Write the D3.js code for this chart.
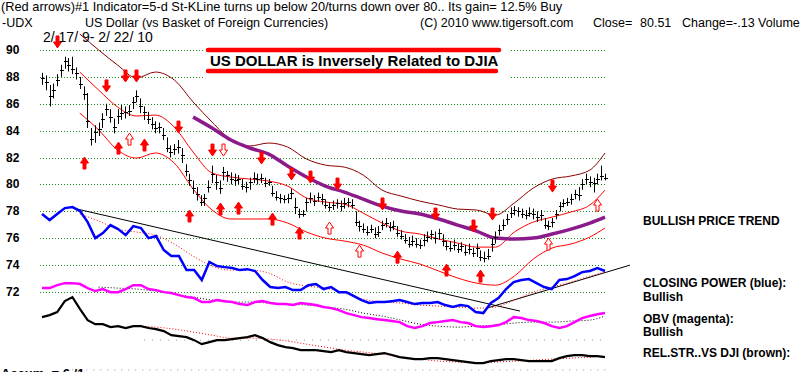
<!DOCTYPE html>
<html>
<head>
<meta charset="utf-8">
<script src="https://cdn.jsdelivr.net/npm/d3@7"></script>
<style>
  body { margin: 0; background: #fff; }
  svg { display: block; }
</style>
</head>
<body>
<div id="chart"></div>
<script>
// daily bars [high, low, close], 2/17/09 .. 2/22/10
var bars = [
  [88.3,87.4,87.9],[88.1,87.0,87.6],[87.4,85.8,86.6],[87.5,86.4,87.0],[88.2,87.3,87.8],[88.9,88.0,88.5],[89.5,88.6,89.2],[89.4,88.4,88.9],[89.5,88.2,88.6],[88.7,87.8,88.3],
  [88.0,87.1,87.5],[87.3,86.3,86.7],[86.8,84.2,84.7],[84.2,82.9,83.4],[84.4,83.1,83.9],[84.6,83.6,84.1],[85.3,84.2,84.9],[86.0,85.1,85.6],[85.6,84.6,85.0],[84.9,83.8,84.3],
  [85.6,84.5,85.1],[85.9,84.8,85.3],[85.8,84.9,85.4],[85.9,85.1,85.5],[86.5,85.6,86.1],[87.0,86.1,86.6],[86.4,85.3,85.8],[85.8,84.8,85.4],[85.4,84.5,84.9],[85.0,84.1,84.5],
  [84.7,83.8,84.2],[84.6,83.8,84.3],[84.2,83.3,83.7],[83.5,82.4,82.7],[82.9,82.0,82.4],[83.0,82.2,82.6],[83.3,82.3,82.8],[82.7,81.6,82.2],[81.5,80.6,81.0],[80.8,79.9,80.3],
  [80.3,79.3,79.7],[79.8,78.8,79.3],[79.2,78.4,78.7],[79.3,78.4,79.0],[80.3,79.4,79.8],[81.4,80.1,80.8],[80.7,79.6,80.2],[80.3,79.3,79.7],[81.3,80.3,80.9],[81.0,80.2,80.7],
  [80.9,80.0,80.4],[80.8,79.9,80.3],[80.7,80.0,80.4],[80.4,79.6,79.9],[80.2,79.4,79.8],[80.5,79.6,80.2],[80.9,80.1,80.5],[80.8,80.0,80.4],[80.8,80.1,80.5],[80.5,79.8,80.1],
  [80.4,79.9,80.2],[79.9,79.1,79.4],[79.5,78.8,79.1],[79.3,78.6,79.0],[79.2,78.6,78.9],[79.3,78.6,79.0],[79.7,78.9,79.4],[79.0,77.8,78.3],[78.2,77.5,77.8],[78.1,77.6,77.8],
  [79.0,78.0,78.7],[79.4,78.6,79.0],[79.2,78.4,78.8],[79.4,78.7,79.1],[79.3,78.5,78.9],[78.9,78.2,78.5],[78.7,78.0,78.3],[78.8,78.1,78.5],[78.9,78.2,78.6],[78.8,78.0,78.4],
  [79.0,78.2,78.6],[79.0,78.3,78.7],[78.9,78.2,78.5],[78.0,76.9,77.2],[77.3,76.5,76.9],[77.1,76.4,76.7],[76.9,76.2,76.5],[77.0,76.4,76.7],[76.8,76.0,76.3],[76.9,76.1,76.5],
  [77.3,76.6,77.0],[77.5,76.8,77.1],[77.2,76.5,76.8],[77.3,76.6,76.9],[76.9,76.1,76.4],[76.6,75.9,76.2],[76.3,75.6,75.9],[76.1,75.3,75.6],[76.2,75.4,75.8],[76.0,75.3,75.6],
  [75.9,75.2,75.5],[76.3,75.4,75.9],[76.5,75.7,76.1],[76.6,75.9,76.3],[76.5,75.6,76.0],[76.7,75.9,76.4],[76.3,75.4,75.8],[75.8,75.1,75.4],[75.8,75.0,75.3],[75.9,75.1,75.5],
  [75.6,74.9,75.2],[75.7,75.0,75.4],[75.5,74.7,75.0],[75.6,74.8,75.2],[75.3,74.6,74.9],[75.6,74.6,75.3],[75.1,74.3,74.6],[75.0,74.2,74.5],[75.2,74.4,74.7],[76.0,75.0,75.6],
  [76.5,75.6,76.1],[77.0,76.2,76.6],[77.4,76.6,77.0],[77.8,77.0,77.4],[78.3,77.5,77.9],[78.4,77.7,78.1],[78.3,77.6,78.0],[78.2,77.5,77.8],[78.1,77.4,77.7],[78.3,77.6,77.9],
  [78.2,77.4,77.8],[78.0,77.2,77.6],[78.1,77.3,77.7],[77.5,76.7,77.0],[77.3,76.6,76.9],[77.5,76.8,77.2],[78.1,77.4,77.8],[78.7,78.0,78.4],[78.9,78.3,78.6],[79.0,78.4,78.7],
  [79.3,78.5,78.9],[79.6,78.9,79.3],[79.8,78.8,79.2],[80.4,79.6,80.0],[80.8,80.0,80.4],[80.6,79.8,80.2],[80.5,79.4,80.1],[80.8,80.0,80.4],[81.4,80.3,80.6],[80.8,80.3,80.51]
];

var priceTicks = [90, 88, 86, 84, 82, 80, 78, 76, 74, 72];

// smooth lines, one value every 5 bars (last one = final bar)
var bandIdx = [0,5,10,15,20,25,30,35,40,45,50,55,60,65,70,75,80,85,90,95,100,105,110,115,120,125,130,135,140,145,149];
var upperBand = [null,null,91.19,90.0,88.88,87.92,88.36,87.77,86.13,84.64,83.30,82.86,83.08,82.78,81.89,81.44,81.29,80.70,79.58,79.14,78.76,78.47,78.17,78.10,77.72,78.62,79.73,80.40,80.63,81.07,82.34];
var innerBand = [null,null,88.36,87.02,85.76,85.09,85.16,84.27,82.41,80.85,80.55,80.40,80.25,79.88,78.99,78.69,78.54,77.87,77.13,76.53,76.31,75.94,75.64,75.34,75.34,76.46,77.20,77.57,77.95,78.47,79.58];
var lowerBand = [null,null,85.31,84.05,82.56,81.96,82.34,81.59,79.66,78.10,77.43,77.43,77.43,77.13,76.46,76.01,75.79,75.49,74.90,74.45,74.08,73.56,73.04,72.66,72.51,73.18,74.45,75.27,75.57,76.09,76.76];
var trendMA = [null,null,null,null,null,null,null,null,85.01,84.20,83.30,82.71,82.26,81.37,80.55,79.88,79.43,78.91,78.39,78.02,77.80,77.43,76.98,76.53,76.01,75.94,76.01,76.31,76.68,77.13,77.57];
var cpMA = [null,null,77.80,77.28,76.68,76.46,76.23,75.57,74.67,73.93,73.63,73.63,73.41,72.74,72.44,72.29,71.92,71.47,71.25,71.18,71.03,70.95,70.88,70.80,70.88,71.40,71.99,72.37,72.74,73.18,73.48];
var obvMA = [null,null,null,72.37,72.29,72.22,72.07,71.85,71.62,71.40,71.25,71.25,71.18,71.10,71.03,70.88,70.73,70.43,70.21,69.91,69.61,69.46,69.39,69.46,69.54,69.69,69.76,69.76,69.84,69.91,70.21];
var rsMA = [null,null,null,null,null,69.46,69.39,69.24,69.02,68.79,68.57,68.57,68.50,68.35,68.12,67.90,67.68,67.53,67.38,67.16,67.01,66.86,66.79,66.71,66.79,66.86,66.93,67.01,67.08,67.16,67.23];

// indicators, 75 evenly spaced readings across the 150 bars
var closingPower = [77.80,77.35,77.80,78.24,78.32,78.02,77.20,76.01,76.38,76.98,76.68,76.23,76.90,76.76,76.01,76.16,75.12,74.67,74.67,73.63,
  73.63,72.89,74.23,73.93,73.85,73.78,73.63,73.70,73.56,72.89,72.37,72.29,72.37,72.14,72.14,72.51,72.59,72.22,72.37,71.99,
  71.99,71.70,71.40,71.18,71.25,71.25,71.32,71.40,71.25,71.10,71.18,71.18,71.25,71.03,70.88,71.03,70.95,70.51,70.43,71.18,
  71.55,72.22,72.74,72.89,72.96,72.66,72.37,72.22,72.89,72.96,73.18,73.48,73.56,73.78,73.56];
var obv = [72.29,72.29,72.51,72.66,72.66,72.59,72.29,72.07,72.22,71.99,71.99,72.22,72.51,72.51,72.22,72.14,71.99,71.92,71.77,71.62,
  71.55,71.25,71.25,71.40,71.32,71.25,71.10,71.03,71.25,71.32,71.18,71.10,71.10,71.03,71.18,71.10,71.03,70.88,70.80,70.65,
  70.43,70.28,70.13,70.06,69.98,69.91,69.84,69.76,69.46,69.32,69.46,69.69,69.76,69.84,69.91,69.76,69.69,69.46,69.39,69.46,
  69.54,69.76,70.13,70.06,69.91,69.84,69.69,69.46,69.32,69.46,69.76,70.06,70.21,70.35,70.43];
var relStrDJI = [70.13,70.28,70.51,71.32,71.62,70.73,69.91,69.61,69.61,69.39,69.46,69.32,69.46,69.46,69.32,69.24,69.09,68.79,68.72,68.64,
  68.42,68.12,68.27,68.42,68.42,68.50,68.57,68.64,68.79,68.57,68.27,68.05,67.90,67.83,67.68,67.68,67.68,67.60,67.53,67.68,
  67.53,67.46,67.38,67.31,67.38,67.46,67.31,67.16,67.08,67.01,67.01,67.08,67.08,67.01,66.93,66.86,66.79,66.71,66.71,66.86,
  66.93,67.01,67.01,66.93,66.86,66.86,66.86,66.86,67.08,67.23,67.31,67.31,67.23,67.23,67.16];

// closing power trendlines [bar, value]
var cpDownTrend = [[8.2, 78.24], [126.5, 70.58]];
var cpUpTrend = [[117.7, 70.80], [155.6, 74.00]];
var relStrBase = { start: 27, value: 68.42 };
var accumBase = { start: 8, value: 66.2 };

// red arrows [bar, price at tip], hollow = outlined arrow
var downArrows = [[4,90.15,0],[17,86.88,0],[22,87.62,0],[25,87.62,0],[36,83.82,0],[45,82.11,0],[48,82.11,1],[58,81.52,0],
  [66,80.33,0],[71,80.10,0],[78,79.58,0],[90,78.10,0],[104,77.35,0],[114,76.46,0],[119,77.35,0],[135,79.43,0]];
var upArrows = [[11,82.04,0],[20,83.15,0],[23,83.82,1],[27,83.38,0],[39,78.10,0],[47,78.62,0],[52,78.69,0],[61,77.87,0],
  [68,76.83,0],[76,77.20,1],[84,75.49,1],[94,75.04,0],[107,74.08,0],[116,73.63,0],[134,76.01,1],[147,78.91,1]];

var w = 800, h = 372;
var font = "'Liberation Sans', Arial, sans-serif";

var svg = d3.select("#chart").append("svg")
  .attr("width", w)
  .attr("height", h)
  .style("background", "#fff");

var x = d3.scaleLinear().domain([0, bars.length - 1]).range([42, 605]);
var y = d3.scaleLinear().domain([72, 90]).range([292, 50]);

// green dotted price grid
svg.selectAll("line.grid")
  .data(priceTicks)
  .enter()
  .append("line")
  .attr("class", "grid")
  .attr("x1", 40).attr("x2", 607)
  .attr("y1", function(d) { return Math.round(y(d)) + 0.5; })
  .attr("y2", function(d) { return Math.round(y(d)) + 0.5; })
  .attr("stroke", "#1a8a1a")
  .attr("stroke-width", 1)
  .attr("stroke-dasharray", "1,2");

svg.selectAll("text.tick")
  .data(priceTicks)
  .enter()
  .append("text")
  .attr("class", "tick")
  .attr("x", 6)
  .attr("y", function(d) { return y(d) + 4; })
  .attr("font-family", font)
  .attr("font-size", "12px")
  .attr("font-weight", "bold")
  .text(function(d) { return d; });

// gray base lines in the indicator area
svg.append("line")
  .attr("x1", x(relStrBase.start)).attr("x2", 607)
  .attr("y1", y(relStrBase.value)).attr("y2", y(relStrBase.value))
  .attr("stroke", "#999").attr("stroke-dasharray", "1,7");
svg.append("line")
  .attr("x1", x(accumBase.start)).attr("x2", 607)
  .attr("y1", y(accumBase.value)).attr("y2", y(accumBase.value))
  .attr("stroke", "#999").attr("stroke-dasharray", "1,6");

// banner
svg.append("rect").attr("x", 203).attr("y", 44).attr("width", 306).attr("height", 34).attr("fill", "#fff");
svg.append("line").attr("x1", 208).attr("x2", 499).attr("y1", 50).attr("y2", 50)
  .attr("stroke", "#ff0000").attr("stroke-width", 4.5).attr("stroke-linecap", "round");
svg.append("line").attr("x1", 208).attr("x2", 496).attr("y1", 71).attr("y2", 71)
  .attr("stroke", "#ff0000").attr("stroke-width", 4.5).attr("stroke-linecap", "round");
svg.append("text").attr("x", 210).attr("y", 66)
  .attr("font-family", font).attr("font-size", "15px").attr("font-weight", "bold")
  .text("US DOLLAR is Inversely Related to DJIA");

function bandLine(vals) {
  return d3.line()
    .defined(function(d) { return d != null; })
    .x(function(d, i) { return x(bandIdx[i]); })
    .y(function(d) { return y(d); })
    .curve(d3.curveMonotoneX)(vals);
}
function indLine(vals) {
  var step = (bars.length - 1) / (vals.length - 1);
  return d3.line()
    .x(function(d, i) { return x(i * step); })
    .y(function(d) { return y(d); })(vals);
}

// envelope bands and moving average
svg.append("path").attr("d", bandLine(upperBand)).attr("fill", "none").attr("stroke", "#8b0000").attr("stroke-width", 1);
svg.append("path").attr("d", bandLine(innerBand)).attr("fill", "none").attr("stroke", "#ff0000").attr("stroke-width", 1);
svg.append("path").attr("d", bandLine(lowerBand)).attr("fill", "none").attr("stroke", "#ff0000").attr("stroke-width", 1);
svg.append("path").attr("d", bandLine(trendMA)).attr("fill", "none").attr("stroke", "#8b1a8b").attr("stroke-width", 3.5);

// price bars
var barG = svg.append("g").attr("stroke", "#000").attr("stroke-width", 1);
barG.selectAll("line.hl")
  .data(bars)
  .enter()
  .append("line")
  .attr("x1", function(d, i) { return Math.round(x(i)) + 0.5; })
  .attr("x2", function(d, i) { return Math.round(x(i)) + 0.5; })
  .attr("y1", function(d) { return y(d[0]); })
  .attr("y2", function(d) { return y(d[1]); });
barG.selectAll("line.cl")
  .data(bars)
  .enter()
  .append("line")
  .attr("x1", function(d, i) { return Math.round(x(i)) - 1; })
  .attr("x2", function(d, i) { return Math.round(x(i)) + 3; })
  .attr("y1", function(d) { return Math.round(y(d[2])) + 0.5; })
  .attr("y2", function(d) { return Math.round(y(d[2])) + 0.5; });

// arrows
function arrowPath(px, py, dir) {
  // dir = 1 points down (tip at py), -1 points up
  var s = dir;
  return "M" + px + "," + py +
    "L" + (px - 4) + "," + (py - 6 * s) +
    "L" + (px - 1.5) + "," + (py - 6 * s) +
    "L" + (px - 1.5) + "," + (py - 12 * s) +
    "L" + (px + 1.5) + "," + (py - 12 * s) +
    "L" + (px + 1.5) + "," + (py - 6 * s) +
    "L" + (px + 4) + "," + (py - 6 * s) + "Z";
}
svg.selectAll("path.down")
  .data(downArrows)
  .enter()
  .append("path")
  .attr("d", function(d) { return arrowPath(Math.round(x(d[0])) + 0.5, y(d[1]), 1); })
  .attr("fill", function(d) { return d[2] ? "#fff" : "#ff0000"; })
  .attr("stroke", "#ff0000");
svg.selectAll("path.up")
  .data(upArrows)
  .enter()
  .append("path")
  .attr("d", function(d) { return arrowPath(Math.round(x(d[0])) + 0.5, y(d[1]), -1); })
  .attr("fill", function(d) { return d[2] ? "#fff" : "#ff0000"; })
  .attr("stroke", "#ff0000");

// indicator panel
var tl = d3.line().x(function(d) { return x(d[0]); }).y(function(d) { return y(d[1]); });
svg.append("path").attr("d", tl(cpDownTrend)).attr("stroke", "#000").attr("stroke-width", 1).attr("fill", "none");
svg.append("path").attr("d", tl(cpUpTrend)).attr("stroke", "#000").attr("stroke-width", 1).attr("fill", "none");

svg.append("path").attr("d", bandLine(cpMA)).attr("fill", "none").attr("stroke", "#ff0000").attr("stroke-dasharray", "1,2");
svg.append("path").attr("d", bandLine(obvMA)).attr("fill", "none").attr("stroke", "#000").attr("stroke-dasharray", "1,2");
svg.append("path").attr("d", bandLine(rsMA)).attr("fill", "none").attr("stroke", "#ff0000").attr("stroke-dasharray", "1,2");

svg.append("path").attr("d", indLine(closingPower)).attr("fill", "none").attr("stroke", "#0000ff").attr("stroke-width", 2.5);
svg.append("path").attr("d", indLine(obv)).attr("fill", "none").attr("stroke", "#ff00ff").attr("stroke-width", 2.5);
svg.append("path").attr("d", indLine(relStrDJI)).attr("fill", "none").attr("stroke", "#000").attr("stroke-width", 2.2);

// header text
function txt(s, tx, ty, size, weight) {
  svg.append("text").attr("x", tx).attr("y", ty)
    .attr("font-family", font).attr("font-size", size).attr("font-weight", weight || "normal")
    .text(s);
}
txt("(Red arrows)#1 Indicator=5-d St-KLine turns up below 20/turns down over 80.. Its gain= 12.5% Buy", 1, 11, "12.8px");
txt("-UDX", 2, 27, "12.5px");
txt("US Dollar (vs Basket of Foreign Currencies)", 85, 27, "12.5px");
txt("(C) 2010 www.tigersoft.com", 420, 27, "12.5px");
txt("Close=", 593, 27, "12.5px");
txt("80.51", 640, 27, "12.5px");
txt("Change=-.13 Volume", 682, 27, "12.5px");
txt("2/ 17/ 9- 2/ 22/ 10", 43, 42, "14px");

// right side labels
txt("BULLISH PRICE TREND", 643, 225, "12px", "bold");
txt("CLOSING POWER (blue):", 643, 287, "12px", "bold");
txt("Bullish", 643, 301, "12px", "bold");
txt("OBV (magenta):", 643, 323, "12px", "bold");
txt("Bullish", 643, 336, "12px", "bold");
txt("REL.STR..VS DJI (brown):", 643, 357, "12px", "bold");
txt("Accum. = 6 /1", 1, 378, "13px", "bold");
</script>
</body>
</html>
